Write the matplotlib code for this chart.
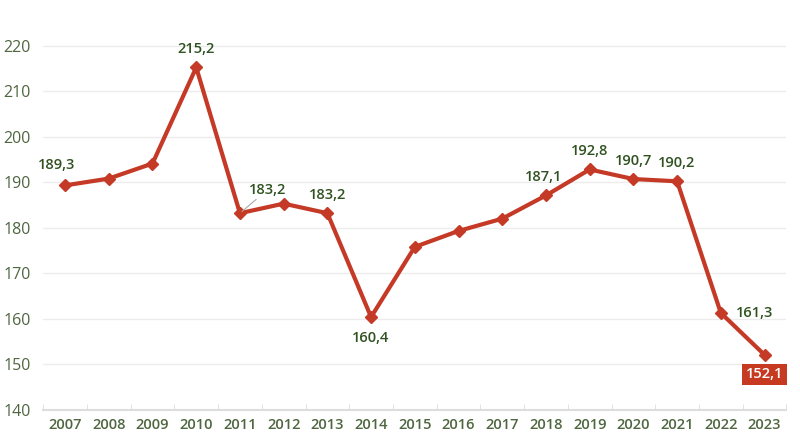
import matplotlib.pyplot as plt
from matplotlib.ticker import FixedLocator

# Data
years = list(range(2007, 2024))
values = [189.3, 190.8, 194.1, 215.2, 183.2, 185.3, 183.2, 160.4, 175.8,
          179.3, 182.0, 187.1, 192.8, 190.7, 190.2, 161.3, 152.1]
labeled = {2007: "189,3", 2010: "215,2", 2011: "183,2", 2013: "183,2",
           2014: "160,4", 2018: "187,1", 2019: "192,8", 2020: "190,7",
           2021: "190,2", 2022: "161,3", 2023: "152,1"}

plt.rcParams["font.family"] = ["Open Sans", "DejaVu Sans"]

red = "#c53a26"
green = "#2f5220"
tick_green = "#4f6640"

fig = plt.figure(figsize=(8, 4.41), dpi=100)
ax = fig.add_axes([0.054, 0.0703, 0.929, 0.9297])

ax.plot(years, values, color=red, linewidth=3, marker="D", markersize=6,
        markeredgecolor=red, zorder=3)

ax.set_xlim(2006.5, 2023.5)
ax.set_ylim(140, 230)
ax.set_yticks(range(140, 221, 10))
ax.set_xticks(years)
ax.xaxis.set_minor_locator(FixedLocator([y + 0.5 for y in range(2006, 2024)]))
ax.grid(axis="y", color="#ececec", linewidth=1)
ax.set_axisbelow(True)

for s in ["top", "right", "left"]:
    ax.spines[s].set_visible(False)
ax.spines["bottom"].set_color("#dddddd")
ax.spines["bottom"].set_linewidth(1.5)

ax.tick_params(axis="y", length=0, labelsize=11.5, labelcolor=tick_green, pad=9)
ax.tick_params(axis="x", which="major", length=0, labelsize=10.5,
               labelcolor=tick_green, pad=6)
ax.tick_params(axis="x", which="minor", length=4, color="#dddddd",
               direction="in")
for t in ax.get_xticklabels():
    t.set_fontweight("semibold")

# Value labels
offsets = {2007: (-6, 10, "center", "bottom"), 2010: (0, 8, "center", "bottom"),
           2011: (20, 12, "center", "bottom"), 2013: (0, 8, "center", "bottom"),
           2014: (0, -10, "center", "top"), 2018: (-2, 8, "center", "bottom"),
           2019: (0, 8, "center", "bottom"), 2020: (0, 8, "center", "bottom"),
           2021: (0, 8, "center", "bottom"), 2022: (11, 0, "left", "center")}
for yr, val in zip(years, values):
    if yr not in labeled:
        continue
    if yr == 2023:
        ax.annotate(labeled[yr], (yr, val), xytext=(0, -9),
                    textcoords="offset points", ha="center", va="top",
                    fontsize=10.5, fontweight="semibold", color="white",
                    bbox=dict(boxstyle="square,pad=0.25", fc="#c63a22", ec="none"))
        continue
    dx, dy, ha, va = offsets[yr]
    kw = {}
    if yr == 2011:
        kw["arrowprops"] = dict(arrowstyle="-", color="#aaaaaa", lw=0.8,
                                shrinkA=0, shrinkB=2)
    ax.annotate(labeled[yr], (yr, val), xytext=(dx, dy),
                textcoords="offset points", ha=ha, va=va, fontsize=10.5,
                fontweight="semibold", color=green, **kw)

plt.savefig("out.png", dpi=100)
